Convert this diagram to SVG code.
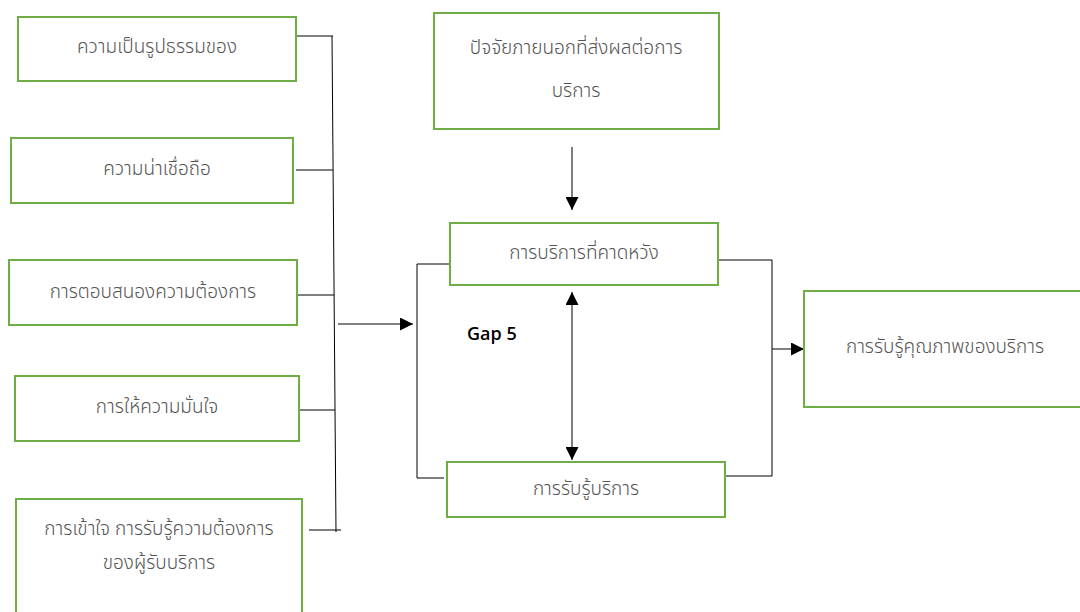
<svg xmlns="http://www.w3.org/2000/svg" width="1080" height="612" viewBox="0 0 1080 612">
<style>
.box{fill:#fff;stroke:#70AD47;stroke-width:2}
.t{font-family:"Noto Sans Thai","Noto Sans","DejaVu Sans",sans-serif;font-size:19px;font-weight:300;fill:#555;text-anchor:middle;dominant-baseline:central}
.c{stroke:#000;stroke-width:1;fill:none}
.g{font-family:"Open Sans","Noto Sans",sans-serif;font-size:18px;font-weight:600;fill:#000}
</style>
<defs>
<marker id="ah" viewBox="0 0 10 10" refX="10" refY="5" markerWidth="13" markerHeight="13" markerUnits="userSpaceOnUse" orient="auto-start-reverse">
<path d="M0,0 L10,5 L0,10 z" fill="#000"/>
</marker>
</defs>
<rect width="1080" height="612" fill="#fff"/>
<g id="connectors">
<line class="c" x1="332" y1="36" x2="336" y2="532"/>
<line class="c" x1="294" y1="36" x2="333" y2="36"/>
<line class="c" x1="296" y1="170" x2="333" y2="170"/>
<line class="c" x1="298" y1="295" x2="334" y2="295"/>
<line class="c" x1="300" y1="410" x2="335" y2="410"/>
<line class="c" x1="309" y1="530" x2="341" y2="530"/>
<line class="c" x1="338" y1="324" x2="413" y2="324" marker-end="url(#ah)"/>
<polyline class="c" points="449,264 417,264 417,478 444,478"/>
<line class="c" x1="572" y1="147" x2="572" y2="210" marker-end="url(#ah)"/>
<line class="c" x1="572" y1="292" x2="572" y2="460" marker-start="url(#ah)" marker-end="url(#ah)"/>
<polyline class="c" points="719,260 772,260 772,476 726,476"/>
<line class="c" x1="772" y1="349" x2="804" y2="349" marker-end="url(#ah)"/>
</g>
<g id="n1"><rect class="box" x="18" y="17" width="278" height="64"/><text class="t" x="157" y="47">ความเป็นรูปธรรมของ</text></g>
<g id="n2"><rect class="box" x="11" y="138" width="282" height="65"/><text class="t" x="157" y="169">ความน่าเชื่อถือ</text></g>
<g id="n3"><rect class="box" x="9" y="260" width="288" height="65"/><text class="t" x="153" y="292">การตอบสนองความต้องการ</text></g>
<g id="n4"><rect class="box" x="15" y="376" width="284" height="65"/><text class="t" x="157" y="407">การให้ความมั่นใจ</text></g>
<g id="n5"><rect class="box" x="16" y="499" width="286" height="130"/><text class="t" x="159" y="529">การเข้าใจ การรับรู้ความต้องการ</text><text class="t" x="159" y="563">ของผู้รับบริการ</text></g>
<g id="n6"><rect class="box" x="434" y="13" width="285" height="116"/><text class="t" x="576" y="48">ปัจจัยภายนอกที่ส่งผลต่อการ</text><text class="t" x="576" y="91">บริการ</text></g>
<g id="n7"><rect class="box" x="450" y="223" width="268" height="62"/><text class="t" x="584" y="253">การบริการที่คาดหวัง</text></g>
<g id="n8"><rect class="box" x="447" y="462" width="278" height="55"/><text class="t" x="586" y="489">การรับรู้บริการ</text></g>
<g id="n9"><rect class="box" x="804" y="291" width="290" height="116"/><text class="t" x="945" y="347">การรับรู้คุณภาพของบริการ</text></g>
<text class="g" x="467" y="340">Gap 5</text>
</svg>
